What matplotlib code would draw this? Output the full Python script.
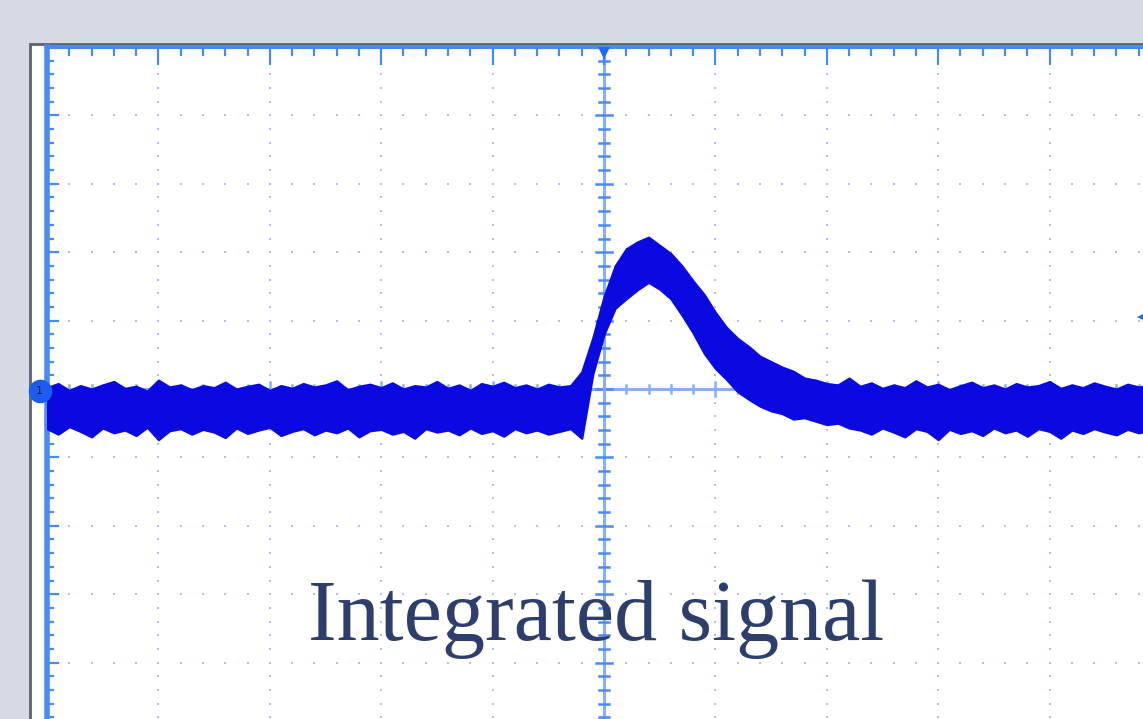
import numpy as np
import matplotlib
matplotlib.use('agg')
import matplotlib.pyplot as plt
from matplotlib.patches import Rectangle

# scope trace in divisions (time 0..10 div, volts -5..5 div)
t = np.round(np.arange(0, 10.0, 0.1), 1)

upper_pre = [0.02, 0.08, -0.02, 0.05, 0.00, 0.06, 0.11, 0.01, 0.04, -0.03,
             0.13, 0.03, 0.06, -0.01, 0.05, 0.02, 0.10, 0.00, 0.04, 0.07,
             -0.02, 0.05, 0.01, 0.08, 0.03, 0.06, 0.12, -0.01, 0.04, 0.07,
             0.02, 0.09, 0.00, 0.05, 0.03, 0.11, 0.01, 0.06, -0.02, 0.08,
             0.04, 0.10, 0.02, 0.06, 0.00, 0.07, 0.03, 0.05]
lower_pre = [-0.58, -0.66, -0.55, -0.62, -0.70, -0.57, -0.64, -0.60, -0.68, -0.56,
             -0.74, -0.61, -0.58, -0.66, -0.59, -0.63, -0.71, -0.57, -0.65, -0.60,
             -0.56, -0.68, -0.62, -0.58, -0.67, -0.60, -0.64, -0.57, -0.70, -0.61,
             -0.59, -0.66, -0.62, -0.72, -0.58, -0.63, -0.60, -0.67, -0.57, -0.65,
             -0.61, -0.69, -0.58, -0.64, -0.60, -0.66, -0.62, -0.58]

upper_pulse = [0.25, 0.75, 1.35, 1.80, 2.05, 2.15, 2.22, 2.10, 1.98, 1.80,
               1.58, 1.38, 1.12, 0.90, 0.74, 0.62, 0.48, 0.40, 0.32, 0.26,
               0.16, 0.13, 0.08, 0.06, 0.16]
lower_pulse = [-0.72, 0.22, 0.80, 1.18, 1.32, 1.45, 1.56, 1.46, 1.32, 1.08,
               0.82, 0.52, 0.30, 0.14, -0.04, -0.15, -0.25, -0.32, -0.36, -0.44,
               -0.42, -0.47, -0.52, -0.50, -0.57]

upper_post = [0.04, 0.09, 0.01, 0.06, 0.02, 0.12, 0.03, 0.07, -0.01, 0.05,
              0.10, 0.02, 0.06, 0.00, 0.08, 0.03, 0.05, 0.11, 0.01, 0.06,
              0.02, 0.09, 0.04, 0.00, 0.07, 0.03, 0.06]
lower_post = [-0.60, -0.66, -0.57, -0.63, -0.70, -0.58, -0.62, -0.74, -0.59, -0.65,
              -0.61, -0.68, -0.57, -0.64, -0.60, -0.69, -0.58, -0.62, -0.72, -0.60,
              -0.65, -0.58, -0.63, -0.67, -0.59, -0.64, -0.61]

upper = np.array(upper_pre + upper_pulse + upper_post)
lower = np.array(lower_pre + lower_pulse + lower_post)

label = "Integrated signal"

W, H = 1143, 719
fig = plt.figure(figsize=(W / 100, H / 100), dpi=100)
fig.patch.set_facecolor('#d6dae3')

# white screen panel with dark frame
fig.patches.append(Rectangle((30 / W, -0.1), 1.2, (H - 44) / H + 0.1,
                             transform=fig.transFigure, facecolor='white',
                             edgecolor='#5b6270', lw=2, zorder=-5))

ax = fig.add_axes([47 / W, (H - 731) / H, 1114 / W, 684 / H])
ax.set_xlim(0, 10)
ax.set_ylim(-5, 5)
ax.axis('off')
ax.patch.set_alpha(0)
ax.set_zorder(2)

grid_c = '#a7c2f5'
line_c = '#4a8af4'
center_c = '#86b0f6'

# dotted graticule along major lines
minor = np.round(np.arange(0, 10.01, 0.2), 2)
yminor = np.round(np.arange(-5, 5.01, 0.2), 2)
for k in [1, 2, 3, 4, 6, 7, 8, 9]:
    ax.plot(np.full(len(yminor), k), yminor, ls='none', marker='s',
            ms=2.0, color=grid_c, mew=0)
for k in [-4, -3, -2, -1, 1, 2, 3, 4]:
    ax.plot(minor, np.full(len(minor), k), ls='none', marker='s',
            ms=2.0, color=grid_c, mew=0)

# center cross-hair with ticks
ax.axvline(5, color=center_c, lw=2.2, zorder=2)
ax.axhline(0, color=center_c, lw=2.2, zorder=2)
for y in yminor:
    half = 0.07 if abs(y - round(y)) < 1e-6 else 0.045
    ax.plot([5 - half, 5 + half], [y, y], color=line_c, lw=1.8, zorder=2)
for x in minor:
    half = 0.1 if abs(x - round(x)) < 1e-6 else 0.065
    ax.plot([x, x], [-half, half], color=center_c, lw=1.8, zorder=2)

# left and top edge with ticks
ax.plot([0, 0], [-5, 5], color=line_c, lw=4, zorder=3, clip_on=False)
ax.plot([0, 10], [5, 5], color=line_c, lw=3, zorder=3, clip_on=False)
for y in yminor:
    ln = 0.1 if abs(y - round(y)) < 1e-6 else 0.055
    ax.plot([0, ln], [y, y], color=line_c, lw=1.6, zorder=3)
for x in minor:
    ln = 0.25 if abs(x - round(x)) < 1e-6 else 0.11
    ax.plot([x, x], [5, 5 - ln], color=line_c, lw=1.6, zorder=3)

# trace
ax.fill_between(t, lower, upper, color='#0a0ae0', lw=1.6, edgecolor='#0a0ae0', zorder=4)

# markers: channel 1, trigger position, trigger level
ax.plot([-0.065], [-0.03], marker='o', ms=17, color='#1d5cf0', mew=0,
        clip_on=False, zorder=5)
ax.text(-0.07, -0.03, '1', fontsize=8, color='#0a1a50', ha='center', va='center',
        zorder=6, clip_on=False)
ax.plot([5], [4.93], marker='v', ms=10, color='#1d6cf5', mew=0, zorder=5)
ax.plot([9.85], [1.05], marker='<', ms=10, color='#1d6cf5', mew=0,
        clip_on=False, zorder=5)

fig.text(596 / W, (H - 640) / H, label, ha='center', va='baseline',
         family='Liberation Serif', fontsize=62, color='#2d3e6d', zorder=10)

fig.savefig('out.png', dpi=100, facecolor=fig.get_facecolor())
